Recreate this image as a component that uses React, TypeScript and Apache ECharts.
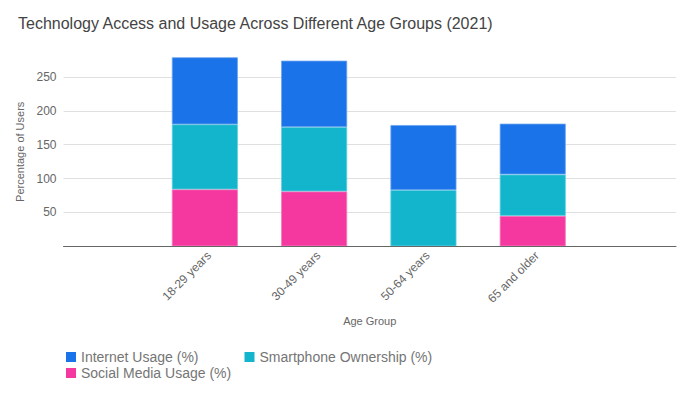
import React, { useEffect, useRef } from "react";
import * as echarts from "echarts";

const categories = ["18-29 years", "30-49 years", "50-64 years", "65 and older"];
const internetUsage = [99, 98, 96, 75];
const smartphoneOwnership = [96, 95, 83, 61];
const socialMediaUsage: (number | string)[] = [84, 81, "-", 45];
const yMax = 279;

const FONT = "Liberation Sans, Arial, sans-serif";
const colors = { internet: "#1a73e8", smartphone: "#12b5cb", social: "#f538a0" };

export default function App() {
  const ref = useRef<HTMLDivElement>(null);
  useEffect(() => {
    if (!ref.current) return;
    const chart = echarts.init(ref.current, undefined, { renderer: "svg" });
    const gridTop = 57.3;
    const gridBottom = 396 - 246.3;
    chart.setOption({
      animation: false,
      textStyle: { fontFamily: FONT },
      title: {
        text: "Technology Access and Usage Across Different Age Groups (2021)",
        left: 13,
        top: 10,
        textStyle: { fontFamily: FONT, fontSize: 16, fontWeight: "normal", color: "#444" },
      },
      legend: [
        {
          data: ["Internet Usage (%)", "Smartphone Ownership (%)"],
          left: 61,
          top: 345,
          orient: "horizontal",
          icon: "rect",
          itemWidth: 10,
          itemHeight: 10,
          itemGap: 46,
          itemStyle: { borderWidth: 0 },
          textStyle: { fontFamily: FONT, fontSize: 14, color: "#757575" },
        },
        {
          data: ["Social Media Usage (%)"],
          left: 61,
          top: 361,
          icon: "rect",
          itemWidth: 10,
          itemHeight: 10,
          itemStyle: { borderWidth: 0 },
          textStyle: { fontFamily: FONT, fontSize: 14, color: "#757575" },
        },
      ],
      grid: [
        { left: 63.5, right: 15, top: gridTop, bottom: gridBottom, containLabel: false },
        { left: 150.2, width: 437.2, top: gridTop, bottom: gridBottom, containLabel: false },
      ],
      xAxis: [
        {
          gridIndex: 0,
          type: "category",
          data: [""],
          axisLine: { show: true, lineStyle: { color: "#666", width: 1 } },
          axisTick: { show: false },
          axisLabel: { show: false },
          name: "Age Group",
          nameLocation: "middle",
          nameGap: 69,
          nameTextStyle: { fontFamily: FONT, fontSize: 11, color: "#666" },
          z: 10,
        },
        {
          gridIndex: 1,
          type: "category",
          data: categories,
          axisLine: { show: false },
          axisTick: { show: false },
          axisLabel: {
            rotate: 45,
            margin: 3,
            interval: 0,
            verticalAlign: "top",
            fontFamily: FONT,
            fontSize: 12,
            color: "#666",
          },
        },
      ],
      yAxis: [
        {
          gridIndex: 0,
          type: "value",
          min: 0,
          max: yMax,
          interval: 50,
          axisLine: { show: false },
          axisTick: { show: false },
          axisLabel: {
            showMinLabel: false,
            showMaxLabel: false,
            margin: 7,
            fontFamily: FONT,
            fontSize: 12,
            color: "#666",
          },
          splitLine: { show: true, showMaxLine: false, lineStyle: { color: "#e0e0e0", width: 1 } },
          name: "Percentage of Users",
          nameLocation: "middle",
          nameGap: 33,
          nameTextStyle: { fontFamily: FONT, fontSize: 11, color: "#666" },
        },
        {
          gridIndex: 1,
          type: "value",
          min: 0,
          max: yMax,
          interval: 50,
          show: false,
          splitLine: { show: false },
        },
      ],
      series: [
        {
          name: "Social Media Usage (%)",
          type: "bar",
          stack: "total",
          xAxisIndex: 1,
          yAxisIndex: 1,
          barWidth: 66,
          data: socialMediaUsage,
          itemStyle: { color: colors.social, borderColor: "#f878bd", borderWidth: 0.8 },
        },
        {
          name: "Smartphone Ownership (%)",
          type: "bar",
          stack: "total",
          xAxisIndex: 1,
          yAxisIndex: 1,
          barWidth: 66,
          data: smartphoneOwnership,
          itemStyle: { color: colors.smartphone, borderColor: "#5fcfde", borderWidth: 0.8 },
        },
        {
          name: "Internet Usage (%)",
          type: "bar",
          stack: "total",
          xAxisIndex: 1,
          yAxisIndex: 1,
          barWidth: 66,
          data: internetUsage,
          itemStyle: { color: colors.internet, borderColor: "#6aa3ef", borderWidth: 0.8 },
        },
      ],
    });
    return () => chart.dispose();
  }, []);
  return <div ref={ref} style={{ width: 691, height: 396, position: "absolute", left: 0, top: 0 }} />;
}
